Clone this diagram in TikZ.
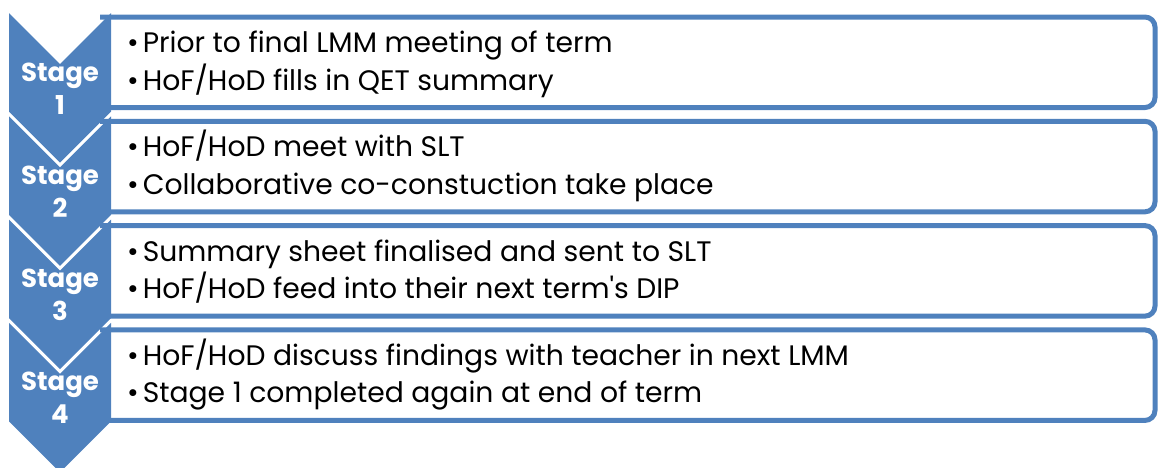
\documentclass[tikz,border=0pt]{standalone}
\usepackage{fontspec}
\setmainfont{Poppins}
\definecolor{stageblue}{HTML}{4F81BD}
\newcommand{\itembullet}{\textbullet\hspace{4pt}}
\tikzset{
    panel/.style={draw=stageblue,line width=5pt,rounded corners=10pt},
    stagelabel/.style={text=white,font=\fontsize{26}{33}\selectfont\bfseries,align=center,anchor=base},
    item/.style={font=\fontsize{28.2}{30}\selectfont,anchor=base west,inner sep=0pt}
}
\begin{document}
\begin{tikzpicture}[x=1pt,y=-1pt]
\useasboundingbox (0,0) rectangle (1159,467);
% open-ended boxes, the left side sits under the chevrons
\foreach \i in {0,1,2,3}
{
    \pgfmathsetmacro{\bt}{17+104.3*\i}
    \draw[panel] (100,\bt) -- (1155,\bt) -- (1155,\bt+90.5) -- (100,\bt+90.5);
}
% chevrons pointing down
\foreach \i [count=\n] in {0,1,2,3}
{
    \pgfmathsetmacro{\ct}{13+103.3*\i}
    \fill[stageblue] (9,\ct) -- (60,\ct+51) -- (111,\ct) -- (111,\ct+98.5)
        -- (60,\ct+149.5) -- (9,\ct+98.5) -- cycle;
    % base of a two-line node is the baseline of the number
    \node[stagelabel] (stage\n) at (60,\ct+101) {Stage\\\n};
}
\node[item] (prior) at (127,52.5) {\itembullet Prior to final LMM meeting of term};
\node[item] (fills) at (127,90) {\itembullet HoF/HoD fills in QET summary};
\node[item] (meet) at (127,156.8) {\itembullet HoF/HoD meet with SLT};
\node[item] (cocon) at (127,194.3) {\itembullet Collaborative co-constuction take place};
\node[item] (sheet) at (127,261.1) {\itembullet Summary sheet finalised and sent to SLT};
\node[item] (dip) at (127,298.6) {\itembullet HoF/HoD feed into their next term\textquotesingle s DIP};
\node[item] (discuss) at (127,365.4) {\itembullet HoF/HoD discuss findings with teacher in next LMM};
\node[item] (again) at (127,402.9) {\itembullet Stage 1 completed again at end of term};
\end{tikzpicture}
\end{document}
